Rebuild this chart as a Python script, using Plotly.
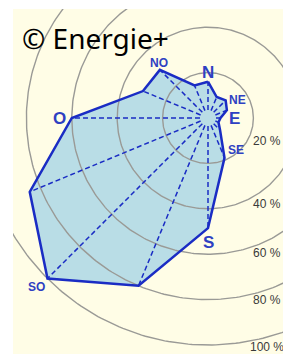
import numpy as np
import plotly.graph_objects as go

# ---- data ----
directions = ["N", "NNE", "NE", "ENE", "E", "ESE", "SE", "SSE",
              "S", "SSO", "SO", "OSO", "O", "ONO", "NO", "NNO"]
frequency = [16, 10, 11, 9, 5.5, 5, 7.5, 19,
             48.5, 80, 100, 85, 60, 31, 30, 15.5]
ring_values = [20, 40, 60, 80, 100]
ring_labels = ["20 %", "40 %", "60 %", "80 %", "100 %"]
main_labels = ["N", "NE", "E", "SE", "S", "SO", "O", "NO"]

# ---- styles / layout ----
BG = "#FFFDE6"
FILL = "#B9DDE6"
BLUE = "#1A2CC4"
LABEL_BLUE = "#2E40C2"
GRID = "#9A9A96"

W, H = 283, 354
ML, MT = 13, 9
CX, CY = 208, 118          # centre in pixels
K = 2.27                   # pixels per percent

x_range = [-(CX - ML) / K, (W - CX) / K]
y_range = [-(H - CY) / K, (CY - MT) / K]

angles = np.deg2rad(np.arange(len(directions)) * 22.5)
r = np.array(frequency)
px = r * np.sin(angles)
py = r * np.cos(angles)

fig = go.Figure()

# filled polygon
fig.add_trace(go.Scatter(x=list(px) + [px[0]], y=list(py) + [py[0]],
                         mode="lines", fill="toself", fillcolor=FILL,
                         line=dict(width=0, color=FILL), hoverinfo="skip"))

# grid rings
t = np.linspace(0, 2 * np.pi, 361)
for v in ring_values:
    fig.add_trace(go.Scatter(x=v * np.cos(t), y=v * np.sin(t), mode="lines",
                             line=dict(color=GRID, width=1.4), hoverinfo="skip"))

# dashed spokes
sx, sy = [], []
for xx, yy in zip(px, py):
    sx += [0, xx, None]
    sy += [0, yy, None]
fig.add_trace(go.Scatter(x=sx, y=sy, mode="lines",
                         line=dict(color=BLUE, width=1.5, dash="5px,3px"),
                         hoverinfo="skip"))

# outline
fig.add_trace(go.Scatter(x=list(px) + [px[0]], y=list(py) + [py[0]], mode="lines",
                         line=dict(color=BLUE, width=2.5), hoverinfo="skip"))

# hub
fig.add_trace(go.Scatter(x=[0], y=[0], mode="markers",
                         marker=dict(size=12, color=FILL), hoverinfo="skip"))

annotations = []
# direction labels (label radius, angle, size)
label_pos = {"N": (20, 0, 17), "NE": (15.4, 59, 12), "E": (11.5, 92, 17),
             "SE": (18.7, 139, 12), "S": (55, 180, 17), "SO": (106, 225.3, 12),
             "O": (65.6, 270, 17), "NO": (32.5, 318, 12)}
for name in main_labels:
    lr, la, ls = label_pos[name]
    a = np.deg2rad(la)
    annotations.append(dict(x=lr * np.sin(a), y=lr * np.cos(a), text=name,
                            showarrow=False, xanchor="center", yanchor="middle",
                            font=dict(family="Liberation Sans, Arial", size=ls,
                                      color=LABEL_BLUE, weight="bold")))

# ring labels
ring_label_y = [-10.1, -37.9, -59.5, -80.2, -100.9]
for lab, yv in zip(ring_labels, ring_label_y):
    annotations.append(dict(x=(267 - CX) / K, y=yv, text=lab, showarrow=False,
                            xanchor="center", yanchor="middle",
                            font=dict(family="Liberation Sans, Arial", size=12,
                                      color="#3A3A3A")))

# copyright
annotations.append(dict(xref="paper", yref="paper",
                        x=(20 - ML) / (W - ML), y=(H - 38) / (H - MT),
                        text="© Energie+", showarrow=False,
                        xanchor="left", yanchor="middle",
                        font=dict(family="Noto Sans", size=28, color="#000000")))

fig.update_layout(
    width=W, height=H,
    margin=dict(l=ML, r=0, t=MT, b=0, pad=0),
    paper_bgcolor="white", plot_bgcolor=BG,
    showlegend=False,
    xaxis=dict(range=x_range, visible=False, fixedrange=True),
    yaxis=dict(range=y_range, visible=False, fixedrange=True),
    annotations=annotations,
)

fig.write_html("out.html", config={"displayModeBar": False},
               post_script="document.body.style.margin='0';"
                           "document.body.style.overflow='hidden';")
